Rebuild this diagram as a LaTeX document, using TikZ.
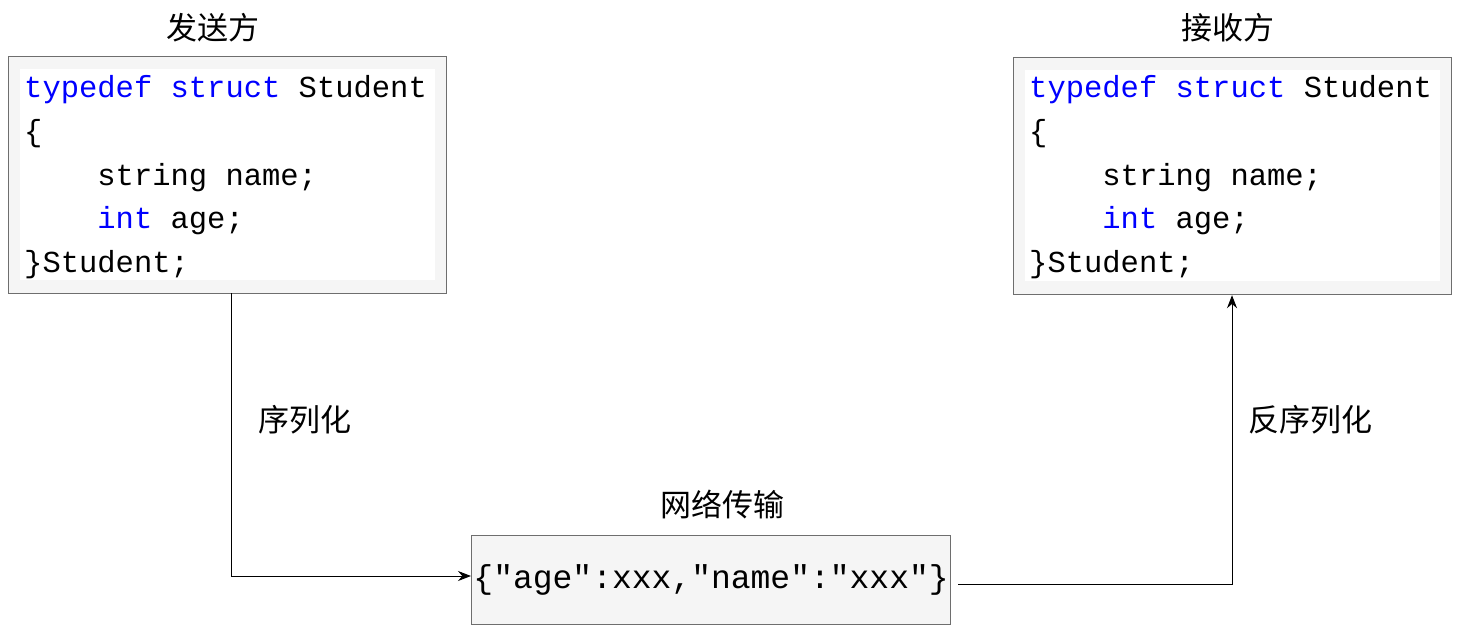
\documentclass[tikz,border=0pt]{standalone}
\usepackage{fontspec}
\setmonofont{Liberation Mono}
\newfontfamily\cjk{Noto Sans CJK SC}
\usetikzlibrary{arrows.meta}
\definecolor{kw}{RGB}{0,0,255}
\definecolor{boxfill}{RGB}{245,245,245}
\definecolor{boxline}{RGB}{110,110,110}
\begin{document}
\begin{tikzpicture}[x=1pt,y=-1pt,
  outerbox/.style={draw=boxline,line width=1.2pt,fill=boxfill},
  innerbox/.style={fill=white,draw=none},
  code/.style={anchor=base west,font=\fontsize{30.5}{30.5}\ttfamily,inner sep=0},
  lab/.style={font=\fontsize{31}{31}\cjk,inner sep=0},
  conn/.style={line width=1pt,-{Stealth[length=13pt,width=10pt]}}]
\useasboundingbox (0,0) rectangle (1461,637);
\fill[white] (0,0) rectangle (1461,637);
% left box
\node[outerbox,minimum width=438,minimum height=237,anchor=north west,inner sep=0] (L) at (8,56) {};
\fill[innerbox] (20,69) rectangle (435,280);
\node[code] (l1) at (24,97) {\textcolor{kw}{typedef struct} Student};
\node[code] (l2) at (24,141) {\{};
\node[code] (l3) at (24,185) {\ \ \ \ string name;};
\node[code] (l4) at (24,228) {\ \ \ \ \textcolor{kw}{int} age;};
\node[code] (l5) at (24,272) {\}Student;};
% right box
\node[outerbox,minimum width=438,minimum height=237,anchor=north west,inner sep=0] (R) at (1013,57) {};
\fill[innerbox] (1025,70) rectangle (1440,281);
\node[code] (r1) at (1029,97) {\textcolor{kw}{typedef struct} Student};
\node[code] (r2) at (1029,141) {\{};
\node[code] (r3) at (1029,185) {\ \ \ \ string name;};
\node[code] (r4) at (1029,228) {\ \ \ \ \textcolor{kw}{int} age;};
\node[code] (r5) at (1029,272) {\}Student;};
% middle box
\node[outerbox,minimum width=479,minimum height=89,anchor=north west,inner sep=0] (M) at (471,535) {};
\node[font=\fontsize{33}{33}\ttfamily,inner sep=0] (mt) at (M.center) {\{"age":xxx,"name":"xxx"\}};
% labels
\node[lab] (t1) at (213,28) {发送方};
\node[lab] (t2) at (1228,28) {接收方};
\node[lab] (t3) at (305,420) {序列化};
\node[lab] (t4) at (1310,420) {反序列化};
\node[lab] (t5) at (722,505) {网络传输};
% connectors
\coordinate (ls) at (231,293);
\draw[conn] (ls) |- (M.west |- 0,576);
\coordinate (ms) at (958,584);
\draw[conn] (ms) -| (R.south -| 1232,0);
\end{tikzpicture}
\end{document}
